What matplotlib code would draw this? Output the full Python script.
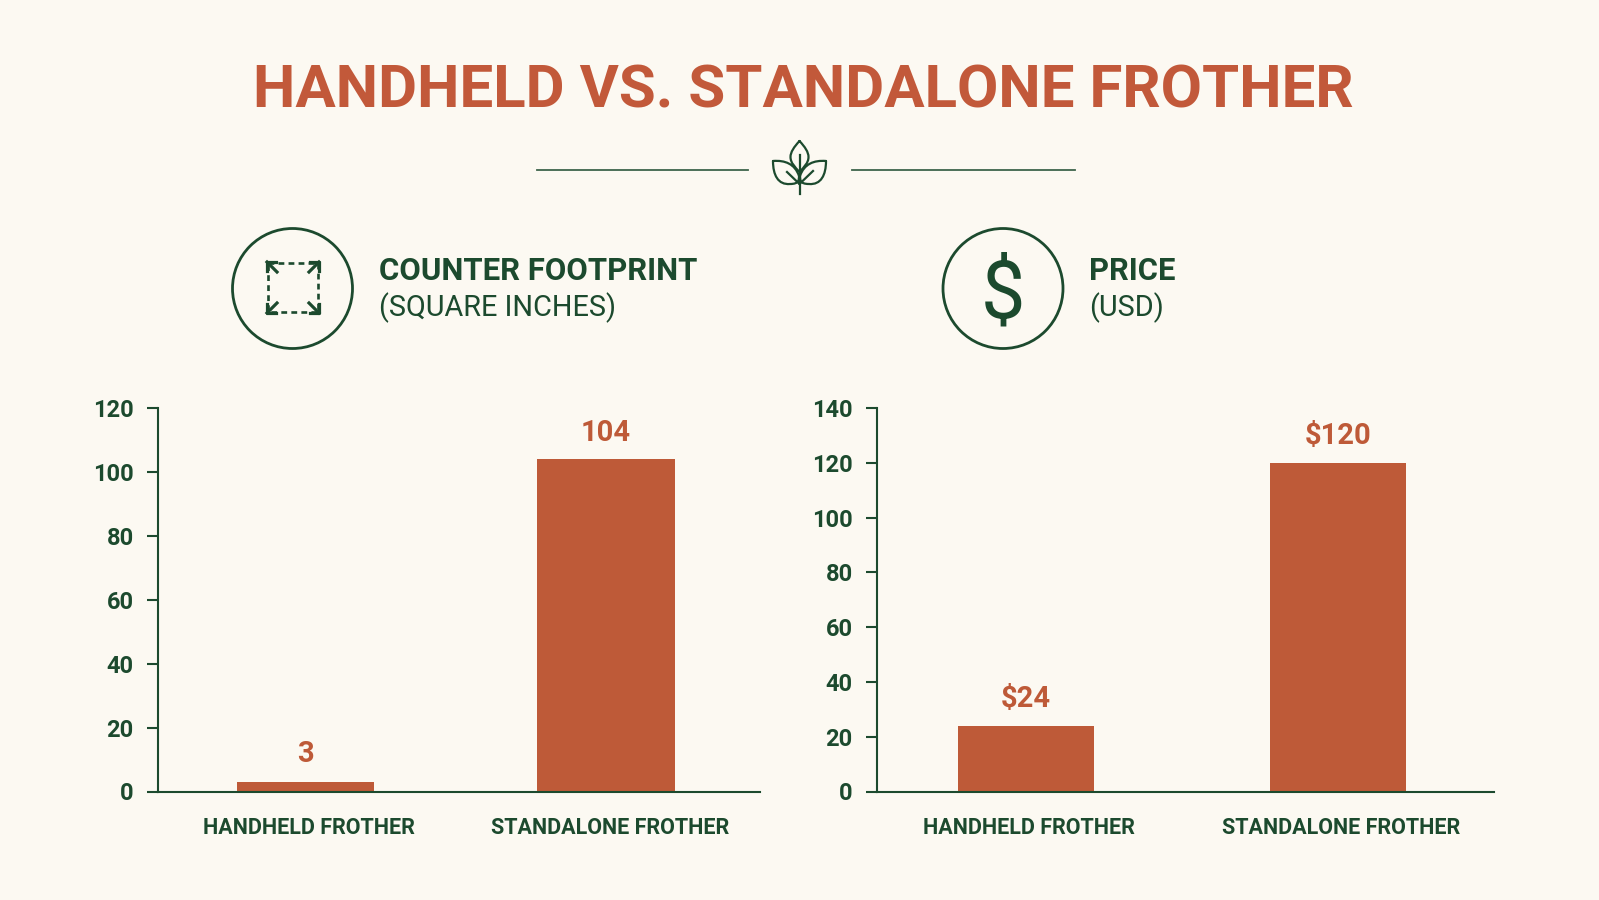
import matplotlib
matplotlib.use("Agg")
from matplotlib import pyplot as plt
from matplotlib.path import Path
from matplotlib.patches import PathPatch, Circle

# Data
categories = ["HANDHELD FROTHER", "STANDALONE FROTHER"]
footprint_values = [3, 104]
footprint_labels = ["3", "104"]
footprint_ticks = [0, 20, 40, 60, 80, 100, 120]
price_values = [24, 120]
price_labels = ["$24", "$120"]
price_ticks = [0, 20, 40, 60, 80, 100, 120, 140]

# Colors
BG = "#FCF9F2"
RUST = "#BE5A38"
TITLE_RUST = "#C2593A"
GREEN = "#1C4A2E"

W, H = 1599, 900
plt.rcParams["font.family"] = ["Roboto", "DejaVu Sans"]

fig = plt.figure(figsize=(W / 100, H / 100), dpi=100, facecolor=BG)

# overlay in pixel coordinates for title and icons
overlay = fig.add_axes([0, 0, 1, 1])
overlay.set_xlim(0, W)
overlay.set_ylim(H, 0)
overlay.axis("off")


def axes_from_pixels(x0, x1, y_top, y_bottom):
    return fig.add_axes([x0 / W, 1 - y_bottom / H, (x1 - x0) / W, (y_bottom - y_top) / H])


def bar_panel(ax, values, labels, ticks, xlim, width, label_gap):
    ax.set_facecolor("none")
    ax.bar([0, 1], values, width=width, color=RUST, zorder=2)
    ax.set_xlim(*xlim)
    ax.set_ylim(ticks[0], ticks[-1])
    ax.set_yticks(ticks)
    ax.set_xticks([0.012, 1.012])
    ax.set_xticklabels(categories)
    ax.tick_params(axis="x", length=0, pad=18, labelsize=15.5, labelcolor=GREEN)
    ax.tick_params(axis="y", length=8, width=1.5, color=GREEN, pad=9.5, labelsize=17, labelcolor=GREEN)
    for t in ax.get_xticklabels() + ax.get_yticklabels():
        t.set_fontweight("bold")
    for side in ["top", "right"]:
        ax.spines[side].set_visible(False)
    for side in ["left", "bottom"]:
        ax.spines[side].set_color(GREEN)
        ax.spines[side].set_linewidth(1.5)
    for i, v in enumerate(values):
        ax.annotate(labels[i], (i, v), xytext=(0, label_gap[i]), textcoords="offset points",
                    ha="center", va="bottom", color=RUST, fontsize=21, fontweight="bold")


ax1 = axes_from_pixels(158, 760, 408, 791.5)
bar_panel(ax1, footprint_values, footprint_labels, footprint_ticks, (-0.49, 1.512), 0.456, [10, 8.5])
ax2 = axes_from_pixels(877, 1494, 408, 791.5)
bar_panel(ax2, price_values, price_labels, price_ticks, (-0.476, 1.5), 0.435, [9.5, 9.5])

# title
overlay.text(803, 91, "HANDHELD VS. STANDALONE FROTHER", ha="center", va="center",
             color=TITLE_RUST, fontsize=43.2, fontweight="bold")

# divider
overlay.plot([537, 748], [170, 170], color=GREEN, lw=1.3, alpha=0.85)
overlay.plot([852, 1075], [170, 170], color=GREEN, lw=1.3, alpha=0.85)


def outline(verts, codes, lw=1.6):
    overlay.add_patch(PathPatch(Path(verts, codes), fc="none", ec=GREEN, lw=lw, capstyle="round"))


M, C, L = Path.MOVETO, Path.CURVE4, Path.LINETO
STEM = 799.5


def mirror(verts):
    return [(2 * STEM - x, y) for x, y in verts]


# top leaf
outline([(STEM, 141), (794, 147), (790.5, 152), (790.5, 157), (790.5, 163), (795, 167), (STEM, 172),
         (804, 167), (808.5, 163), (808.5, 157), (808.5, 152), (805, 147), (STEM, 141)],
        [M, C, C, C, C, C, C, C, C, C, C, C, C])
# side leaves
left_leaf = [(773, 161), (785, 160), (795, 164), (799, 176), (799, 180), (799, 184), (790, 184),
             (778, 185), (773, 175), (773, 161)]
leaf_codes = [M, C, C, C, C, C, C, C, C, C]
outline(left_leaf, leaf_codes)
outline(mirror(left_leaf), leaf_codes)
overlay.plot([STEM, STEM], [155, 194], color=GREEN, lw=1.6)
overlay.plot([STEM, 787], [184, 172], color=GREEN, lw=1.6)
overlay.plot([STEM, 813], [184, 171], color=GREEN, lw=1.6)

# circular badges
for cx in [292.5, 1003]:
    overlay.add_patch(Circle((cx, 288.5), 60, fc="none", ec=GREEN, lw=2))

# dashed square with corner arrows
overlay.plot([268, 318, 318, 268, 268], [263, 263, 312, 312, 263], color=GREEN, lw=1.9,
             ls=(0, (2.2, 1.6)))
for tx, ty, sx, sy in [(267, 262, -1, -1), (319, 262, 1, -1), (267, 313, -1, 1), (319, 313, 1, 1)]:
    overlay.plot([tx - sx * 10, tx], [ty - sy * 10, ty], color=GREEN, lw=2.3)
    overlay.plot([tx - sx * 9, tx, tx], [ty, ty, ty - sy * 9], color=GREEN, lw=2.3)

# dollar sign
overlay.text(1003, 295, "$", ha="center", va="center", color=GREEN, fontsize=57,
             family="Roboto", fontweight="normal")

# panel headings
overlay.text(379, 271, "COUNTER FOOTPRINT", ha="left", va="center", color=GREEN, fontsize=22.4, fontweight="bold")
overlay.text(379, 308, "(SQUARE INCHES)", ha="left", va="center", color=GREEN, fontsize=20.8)
overlay.text(1089, 271, "PRICE", ha="left", va="center", color=GREEN, fontsize=22.2, fontweight="bold")
overlay.text(1089, 308, "(USD)", ha="left", va="center", color=GREEN, fontsize=20.8)

fig.savefig("out.png", dpi=100, facecolor=BG)
